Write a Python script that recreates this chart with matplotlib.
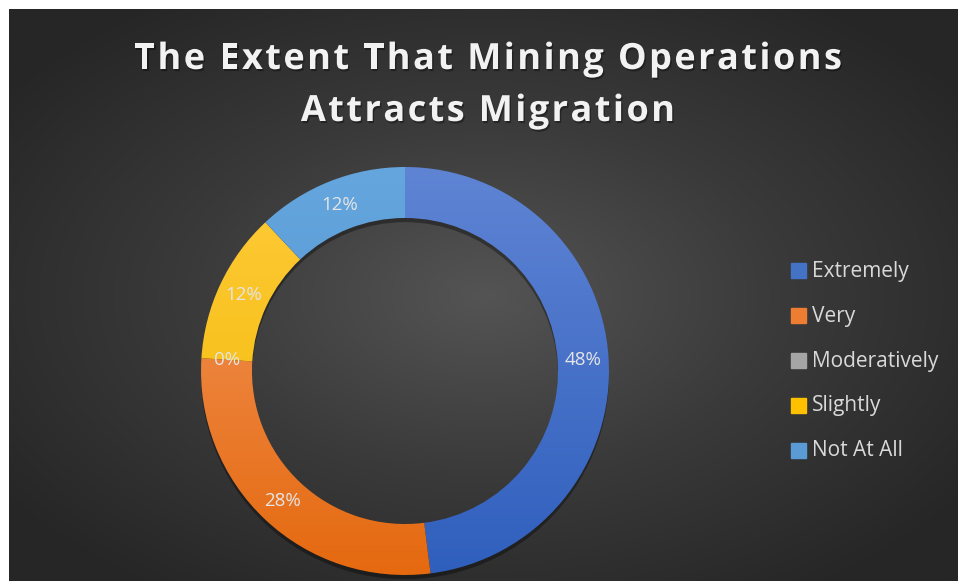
import numpy as np
import matplotlib
matplotlib.use('Agg')
import matplotlib.pyplot as plt
import matplotlib.patheffects as pe
from matplotlib.colors import LinearSegmentedColormap
from matplotlib.font_manager import FontProperties

categories = ['Extremely', 'Very', 'Moderatively', 'Slightly', 'Not At All']
shares = [48, 28, 0, 12, 12]
# light (top) and dark (bottom) end of each slice's gradient fill
tops = ['#5f84d4', '#f39a62', '#b8b8b8', '#ffcb3a', '#65a6de']
bottoms = ['#2f5fbd', '#e5690f', '#8f8f8f', '#f0b800', '#4a8dcc']
legend_cols = ['#4472c4', '#ed7d31', '#a5a5a5', '#ffc000', '#5b9bd5']
title_lines = ['The Extent That Mining Operations', 'Attracts Migration']

W, H = 958, 581
fig = plt.figure(figsize=(W / 100, H / 100), dpi=100)
fig.patch.set_facecolor('white')

# dark radial background
bg = fig.add_axes([9 / W, 0, 1 - 9 / W, 1 - 9 / H])
yy, xx = np.mgrid[0:400, 0:600]
r = np.hypot((xx - 300) / 300, (yy - 200) / 200)
r = np.clip(r / 1.25, 0, 1)
bgcmap = LinearSegmentedColormap.from_list('bg', ['#545454', '#3a3a3a', '#262626'])
bg.imshow(r, cmap=bgcmap, aspect='auto', extent=[0, 1, 0, 1], vmin=0, vmax=1)
bg.axis('off')

# donut
R = 204
cx, cy = 405, 371
ax = fig.add_axes([(cx - R) / W, (H - cy - R) / H, 2 * R / W, 2 * R / H])
wedges, _ = ax.pie(shares, startangle=90, counterclock=False, radius=1,
                   wedgeprops=dict(width=0.25, linewidth=0))
grad = np.linspace(0, 1, 256).reshape(-1, 1)
for w, t, b in zip(wedges, tops, bottoms):
    w.set_facecolor('none')
    w.set_path_effects([pe.SimplePatchShadow(offset=(0, -3), shadow_rgbFace='black', alpha=0.35)])
    cm = LinearSegmentedColormap.from_list('g', [t, b])
    im = ax.imshow(grad, cmap=cm, extent=[-1, 1, -1, 1], aspect='auto', zorder=2)
    im.set_clip_path(w)

# percentage labels along the ring
start = 90.0
for v in shares:
    mid = start - v / 2 * 3.6
    rr = 0.875
    ax.text(rr * np.cos(np.radians(mid)), rr * np.sin(np.radians(mid)), f'{v}%',
            ha='center', va='center', fontsize=13.5, color='#e4e4e4',
            family='Open Sans', zorder=5)
    start -= v * 3.6
ax.set_xlim(-1, 1)
ax.set_ylim(-1, 1)
ax.axis('off')

# title, drawn letter by letter for the wide tracking
renderer = fig.canvas.get_renderer()
fp = FontProperties(family='Open Sans', weight='bold', size=26)
track = 2.4
shadow = [pe.withSimplePatchShadow(offset=(1, -1.5), shadow_rgbFace='black', alpha=0.35)]
for line, base in zip(title_lines, [69, 121]):
    widths = [renderer.get_text_width_height_descent(c, fp, ismath=False)[0] for c in line]
    total = sum(widths) + track * (len(line) - 1)
    x = 488 - total / 2
    for c, wd in zip(line, widths):
        if c != ' ':
            fig.text(x / W, 1 - base / H, c, ha='left', va='baseline', fontproperties=fp,
                     color='#f2f2f2', path_effects=shadow)
        x += wd + track

# legend
for i, (name, col) in enumerate(zip(categories, legend_cols)):
    y = 1 - (271 + 45 * i) / H
    fig.patches.append(plt.Rectangle((791 / W, y - 7 / H), 15 / W, 15 / H,
                                     transform=fig.transFigure, color=col))
    fig.text(812 / W, y, name, ha='left', va='center', fontsize=15,
             family='Open Sans', color='#d9d9d9')

fig.savefig('out.png', dpi=100, facecolor=fig.get_facecolor())
